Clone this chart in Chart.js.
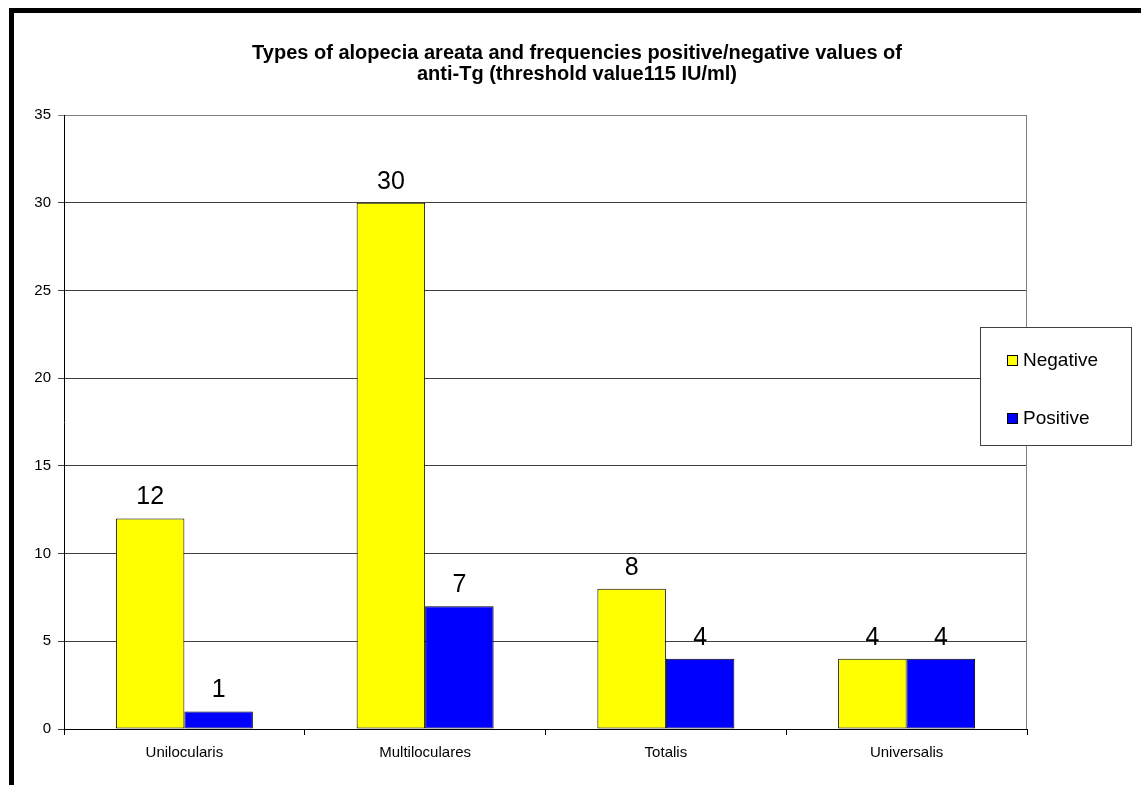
<!DOCTYPE html>
<html>
<head>
<meta charset="utf-8">
<script src="https://cdn.jsdelivr.net/npm/chart.js@4.4.0/dist/chart.umd.min.js"></script>
<style>
  html, body { margin: 0; padding: 0; background: #fff; }
  #wrap { position: relative; width: 1141px; height: 785px; overflow: hidden; }
  #frame { position: absolute; left: 9px; top: 8px; right: -10px; bottom: -10px;
           border-top: 5px solid #000; border-left: 5px solid #000; pointer-events: none; }
  canvas { position: absolute; left: 0; top: 0; }
</style>
</head>
<body>
<div id="wrap">
  <canvas id="chart" width="1141" height="785"></canvas>
  <div id="frame"></div>
</div>
<script>
/* Types d'alopécie — anti-Tg négatif / positif */
const categories = ['Unilocularis', 'Multiloculares', 'Totalis', 'Universalis'];
const negativeValues = [12, 30, 8, 4];
const positiveValues = [1, 7, 4, 4];
const seriesNames = ['Negative', 'Positive'];
const titleLines = ['Types of alopecia areata and frequencies positive/negative values of',
                    'anti-Tg (threshold value115 IU/ml)'];

const FONT = '"Liberation Sans", Arial, sans-serif';

// titre, étiquettes de valeurs, bord droit et légende encadrée
const decorations = {
    id: 'decorations',
    afterDraw(chart) {
        const ctx = chart.ctx;
        const area = chart.chartArea;
        ctx.save();

        // bord droit gris
        ctx.strokeStyle = '#808080';
        ctx.lineWidth = 1;
        ctx.beginPath();
        ctx.moveTo(Math.round(area.right) - 0.5, area.top);
        ctx.lineTo(Math.round(area.right) - 0.5, area.bottom);
        ctx.stroke();

        // titre
        ctx.fillStyle = '#000';
        ctx.font = 'bold 20px ' + FONT;
        ctx.textAlign = 'center';
        ctx.textBaseline = 'middle';
        titleLines.forEach((line, i) => {
            ctx.fillText(line, 577, 53 + i * 21);
        });

        // valeurs au-dessus des barres
        ctx.font = '25px ' + FONT;
        ctx.textBaseline = 'alphabetic';
        chart.data.datasets.forEach((ds, i) => {
            chart.getDatasetMeta(i).data.forEach((bar, j) => {
                ctx.fillText(String(ds.data[j]), bar.x, bar.y - 14);
            });
        });

        // légende
        const lx = 980, ly = 327, lw = 151, lh = 118;
        ctx.fillStyle = '#fff';
        ctx.fillRect(lx, ly, lw, lh);
        ctx.strokeStyle = '#404040';
        ctx.strokeRect(lx + 0.5, ly + 0.5, lw, lh);
        ctx.font = '19px ' + FONT;
        ctx.textAlign = 'left';
        ctx.textBaseline = 'middle';
        chart.data.datasets.forEach((ds, i) => {
            const y = ly + 33 + i * 58;
            ctx.fillStyle = ds.backgroundColor;
            ctx.fillRect(1007, y - 5, 11, 11);
            ctx.strokeStyle = '#000';
            ctx.strokeRect(1007.5, y - 4.5, 10, 10);
            ctx.fillStyle = '#000';
            ctx.fillText(ds.label, 1023, y + 1);
        });
        ctx.restore();
    }
};

new Chart(document.getElementById('chart'), {
    type: 'bar',
    data: {
        labels: categories,
        datasets: [
            { label: seriesNames[0], data: negativeValues, backgroundColor: '#ffff00',
              borderColor: '#000', borderWidth: 1, borderSkipped: false },
            { label: seriesNames[1], data: positiveValues, backgroundColor: '#0000ff',
              borderColor: '#000', borderWidth: 1, borderSkipped: false }
        ]
    },
    options: {
        responsive: false,
        animation: false,
        layout: { padding: { left: 1, right: 114, top: 115, bottom: 0 } },
        datasets: { bar: { barPercentage: 1, categoryPercentage: 0.569 } },
        plugins: {
            legend: { display: false },
            title: { display: false },
            tooltip: { enabled: false }
        },
        scales: {
            x: {
                afterFit: s => { s.height = 56; },
                grid: { offset: true, drawOnChartArea: false, drawTicks: true,
                        tickLength: 6, color: '#000' },
                border: { color: '#000', width: 1 },
                ticks: { color: '#000', font: { family: FONT, size: 15 }, padding: 9 }
            },
            y: {
                min: 0, max: 35,
                afterFit: s => { s.width = 63; },
                grid: {
                    color: c => c.tick && c.tick.value === 35 ? '#808080' : '#404040',
                    tickLength: 6
                },
                border: { color: '#000', width: 1 },
                ticks: { stepSize: 5, color: '#000', font: { family: FONT, size: 15 }, padding: 7 }
            }
        }
    },
    plugins: [decorations]
});
</script>
</body>
</html>
